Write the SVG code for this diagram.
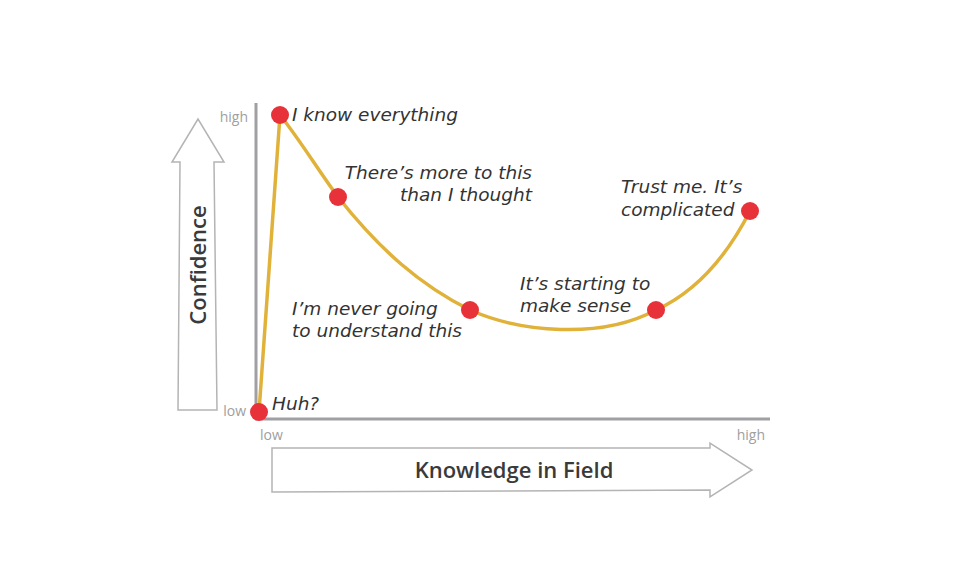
<svg xmlns="http://www.w3.org/2000/svg" width="973" height="584" viewBox="0 0 973 584">
<style>
.ax{stroke:#a0a0a4;stroke-width:3;fill:none}
.arr{fill:#fff;stroke:#b4b4b4;stroke-width:1.5}
.tick{font-family:"Open Sans","DejaVu Sans",sans-serif;font-size:14px;fill:#a0a0a0}
.big{font-family:"Open Sans","DejaVu Sans",sans-serif;font-size:22px;font-weight:600;fill:#3a3a3a}
.lbl{font-family:"DejaVu Sans",Verdana,sans-serif;font-style:italic;font-size:18.5px;fill:#333}
.dot{fill:#e8323a}
.curve{stroke:#e0b23a;stroke-width:3.5;fill:none;stroke-linecap:round}
</style>
<rect width="973" height="584" fill="#fff"/>
<g id="y-arrow">
<path class="arr" d="M178,410 L180,162 L172,162 L198,119 L224,162 L214,162 L217,410 Z"/>
<text class="big" transform="translate(206,265) rotate(-90)" text-anchor="middle">Confidence</text>
</g>
<g id="x-arrow">
<path class="arr" d="M272,448 L710,448 L710,443 L752,470 L710,497 L710,490 L272,492 Z"/>
<text class="big" x="514" y="478" text-anchor="middle">Knowledge in Field</text>
</g>
<g id="axes">
<line class="ax" x1="256" y1="103" x2="256" y2="419"/>
<line class="ax" x1="255" y1="419" x2="770" y2="419"/>
<text class="tick" x="248" y="122" text-anchor="end">high</text>
<text class="tick" x="246" y="416" text-anchor="end">low</text>
<text class="tick" x="260" y="440">low</text>
<text class="tick" x="765" y="440" text-anchor="end">high</text>
</g>
<g id="connectors">
<path class="curve" d="M259,412 L280,115 C300,140 318,170 338,197 C380,250 420,285 470,310 C520,332 600,340 656,310 C700,290 730,250 750,211"/>
</g>
<g id="n-huh"><circle class="dot" cx="259" cy="412" r="9"/><text class="lbl" x="272" y="410">Huh?</text></g>
<g id="n-know"><circle class="dot" cx="280" cy="115" r="9"/><text class="lbl" x="292" y="121">I know everything</text></g>
<g id="n-more"><circle class="dot" cx="338" cy="197" r="9"/><text class="lbl" text-anchor="end"><tspan x="532" y="179">There’s more to this</tspan><tspan x="532" y="201">than I thought</tspan></text></g>
<g id="n-never"><circle class="dot" cx="470" cy="310" r="9"/><text class="lbl"><tspan x="292" y="315">I’m never going</tspan><tspan x="292" y="337">to understand this</tspan></text></g>
<g id="n-sense"><circle class="dot" cx="656" cy="310" r="9"/><text class="lbl"><tspan x="520" y="290">It’s starting to</tspan><tspan x="520" y="312">make sense</tspan></text></g>
<g id="n-trust"><circle class="dot" cx="750" cy="211" r="9"/><text class="lbl"><tspan x="621" y="193">Trust me. It’s</tspan><tspan x="621" y="216">complicated</tspan></text></g>
</svg>
